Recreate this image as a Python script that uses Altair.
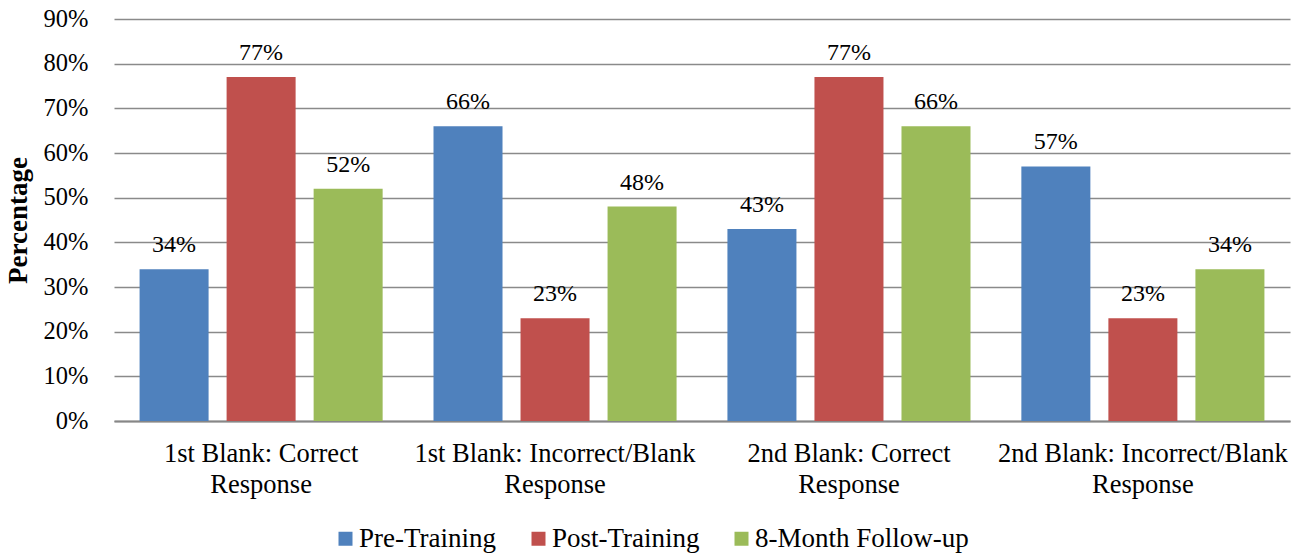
import altair as alt
import pandas as pd

# Response categories (two-line axis labels) and the three measurement points
categories = [
    "1st Blank: Correct Response",
    "1st Blank: Incorrect/Blank Response",
    "2nd Blank: Correct Response",
    "2nd Blank: Incorrect/Blank Response",
]
category_lines = [
    ["1st Blank: Correct", "Response"],
    ["1st Blank: Incorrect/Blank", "Response"],
    ["2nd Blank: Correct", "Response"],
    ["2nd Blank: Incorrect/Blank", "Response"],
]
phases = ["Pre-Training", "Post-Training", "8-Month Follow-up"]
pre_training = [34, 66, 43, 57]
post_training = [77, 23, 77, 23]
follow_up = [52, 48, 66, 34]
colors = ["#4F81BD", "#C0504D", "#9BBB59"]

rows = []
for i, cat in enumerate(categories):
    for phase, series in zip(phases, [pre_training, post_training, follow_up]):
        rows.append({"category": cat, "phase": phase, "value": series[i] / 100,
                     "label": f"{series[i]}%"})
df = pd.DataFrame(rows)

FONT = "Liberation Serif"


def js_list(items):
    return "[" + ", ".join("'" + s + "'" for s in items) + "]"


label_expr = ""
for cat, lines in zip(categories[:-1], category_lines[:-1]):
    label_expr += f"datum.value == '{cat}' ? {js_list(lines)} : "
label_expr += js_list(category_lines[-1])

x_enc = alt.X(
    "category:N",
    sort=categories,
    title=None,
    scale=alt.Scale(paddingInner=0.115, paddingOuter=0.058),
    axis=alt.Axis(
        labelAngle=0,
        labelExpr=label_expr,
        labelFont=FONT,
        labelFontSize=26.5,
        labelColor="#000000",
        labelLimit=0,
        labelPadding=19,
        labelLineHeight=31,
        ticks=False,
        domainColor="#878787",
        domainWidth=2,
        grid=False,
    ),
)
x_off = alt.XOffset("phase:N", sort=phases,
                    scale=alt.Scale(paddingInner=0.207, paddingOuter=0.098))

y_enc = alt.Y(
    "value:Q",
    title="Percentage",
    scale=alt.Scale(domain=[0, 0.9], nice=False),
    axis=alt.Axis(
        format=".0%",
        values=[i / 10 for i in range(10)],
        labelFont=FONT,
        labelFontSize=24.5,
        labelColor="#000000",
        labelPadding=26,
        ticks=False,
        domain=False,
        gridColor="#8a8a8a",
        gridWidth=1.5,
        titleFont=FONT,
        titleFontSize=27,
        titleFontWeight="bold",
        titleColor="#000000",
        titlePadding=11,
    ),
)

base = alt.Chart(df)

bars = base.mark_bar().encode(
    x=x_enc,
    xOffset=x_off,
    y=y_enc,
    color=alt.Color(
        "phase:N",
        sort=phases,
        scale=alt.Scale(domain=phases, range=colors),
        legend=alt.Legend(
            title=None,
            orient="none",
            direction="horizontal",
            legendX=218,
            legendY=506,
            symbolType="square",
            symbolSize=196,
            symbolStrokeWidth=0,
            labelFont=FONT,
            labelFontSize=27,
            labelColor="#000000",
            labelLimit=0,
            labelOffset=0,
            columnPadding=28,
        ),
    ),
)

texts = base.mark_text(font=FONT, fontSize=24, color="#000000",
                       baseline="alphabetic", dy=-17).encode(
    x=alt.X("category:N", sort=categories),
    xOffset=alt.XOffset("phase:N", sort=phases),
    y="value:Q",
    text="label:N",
)

chart = (
    alt.layer(bars, texts)
    .properties(
        width=1176,
        height=402,
        autosize=alt.AutoSizeParams(type="none"),
        padding={"left": 114, "top": 19, "right": 18, "bottom": 134},
    )
    .configure(background="white", font=FONT)
    .configure_view(stroke=None)
)

chart.save("out.html", embed_options={"renderer": "svg", "actions": False})
